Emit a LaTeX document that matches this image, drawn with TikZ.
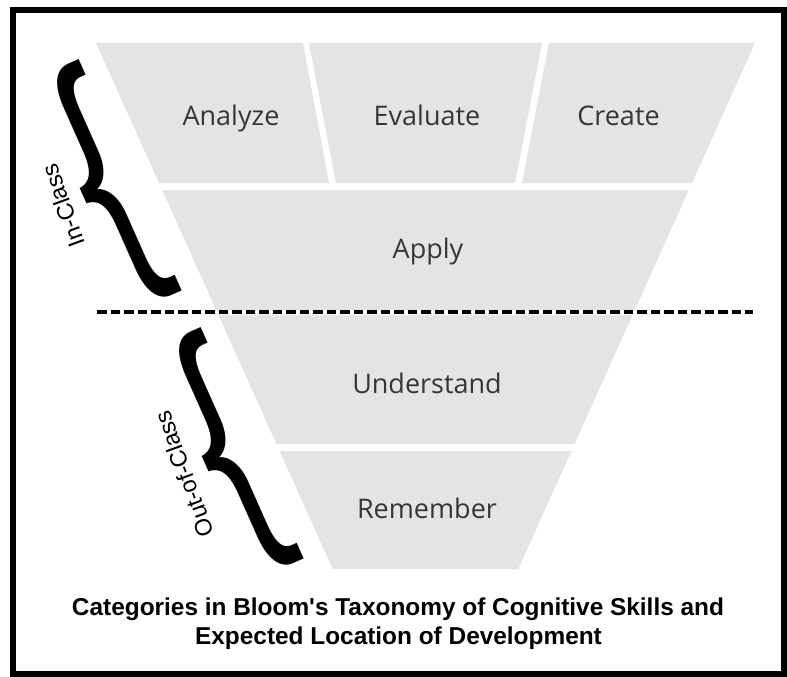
\documentclass[tikz,border=0pt]{standalone}
\usepackage{fontspec}
\setmainfont{Liberation Sans}[Ligatures=TeXOff]
\newfontfamily\lblfont{Open Sans}
\definecolor{tierfill}{HTML}{E3E4E6}
\definecolor{tiertext}{HTML}{363636}
\begin{document}
\begin{tikzpicture}[x=1pt,y=-1pt,
  tier/.style={fill=tierfill},
  tierlabel/.style={font=\lblfont\fontsize{27}{32}\selectfont, text=tiertext, anchor=base, inner sep=0pt},
  bracesym/.style={font=\fontsize{172}{172}\selectfont, inner sep=0pt, rotate=24, yscale=1.58},
  sidelabel/.style={font=\fontsize{23.5}{28}\selectfont, rotate=110, inner sep=0pt},
  captionline/.style={font=\bfseries\fontsize{24.4}{29}\selectfont, anchor=base, inner sep=0pt},
  divider/.style={line width=4pt, dash pattern=on 9.5pt off 4pt}]
\useasboundingbox (0,0) rectangle (787,677);
\fill[white] (0,0) rectangle (787,677);
\draw[line width=6pt] (12.5,10) rectangle (783.5,673.5);
% tiers
\fill[tier] (96,43) -- (303,43) -- (329,183) -- (159,183) -- cycle;
\fill[tier] (309,43) -- (542,43) -- (515,183) -- (336,183) -- cycle;
\fill[tier] (549,43) -- (755,43) -- (692,183) -- (522,183) -- cycle;
\fill[tier] (162.2,190) -- (688.8,190) -- (634.8,310) -- (216.2,310) -- cycle;
\fill[tier] (218.4,315) -- (632.6,315) -- (574.5,444) -- (276.5,444) -- cycle;
\fill[tier] (279.6,451) -- (571.4,451) -- (518.3,569) -- (332.7,569) -- cycle;
% labels
\node[tierlabel] (analyze) at (231,125) {Analyze};
\node[tierlabel] (evaluate) at (427,125) {Evaluate};
\node[tierlabel] (create) at (618.5,125) {Create};
\node[tierlabel] (apply) at (428,258) {Apply};
\node[tierlabel] (understand) at (427,393) {Understand};
\node[tierlabel] (remember) at (427,518) {Remember};
% dashed divider
\coordinate (dl) at (97,312);
\coordinate (dr) at (753,312);
\draw[divider] (dl) -- (dr);
% braces
\node[bracesym] (inbrace) at (107,186) {\{};
\node[bracesym] (outbrace) at (229,454) {\{};
\node[sidelabel] (inclass) at (63,206) {In-Class};
\node[sidelabel] (outclass) at (184,474) {Out-of-Class};
% caption
\node[captionline] (cap1) at (398,615) {Categories in Bloom's Taxonomy of Cognitive Skills and};
\node[captionline] (cap2) at (398.5,644) {Expected Location of Development};
\end{tikzpicture}
\end{document}
